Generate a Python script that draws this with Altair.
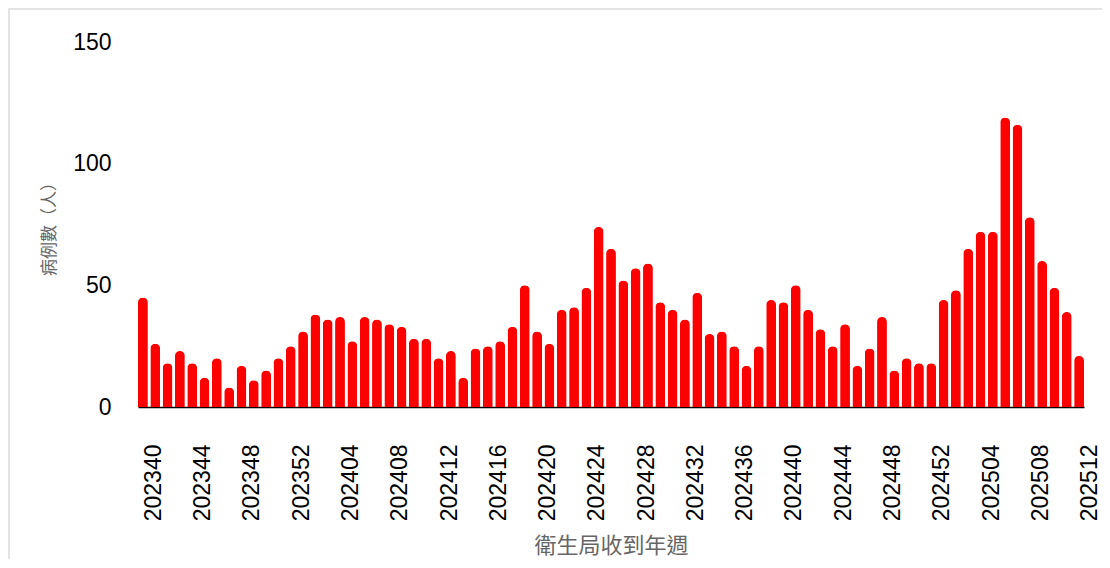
import altair as alt
import pandas as pd

weeks = ([f"2023{w:02d}" for w in range(40, 53)]
         + [f"2024{w:02d}" for w in range(1, 53)]
         + [f"2025{w:02d}" for w in range(1, 13)])

cases = [45, 26, 18, 23, 18, 12, 20, 8, 17, 11, 15, 20, 25,
         31, 38, 36, 37, 27, 37, 36, 34, 33, 28, 28, 20, 23, 12, 24, 25, 27, 33,
         50, 31, 26, 40, 41, 49, 74, 65, 52, 57, 59, 43, 40, 36, 47, 30, 31, 25,
         17, 25, 44, 43, 50, 40, 32, 25, 34, 17, 24, 37, 15, 20, 18, 18,
         44, 48, 65, 72, 72, 119, 116, 78, 60, 49, 39, 21]

tick_weeks = weeks[::4]

df = pd.DataFrame({"week": weeks, "cases": cases})

bars = alt.Chart(df).mark_bar(
    color="#ff0000", cornerRadiusTopLeft=5, cornerRadiusTopRight=5
).encode(
    x=alt.X("week:N", sort=None,
            scale=alt.Scale(paddingInner=0.2, paddingOuter=0),
            axis=alt.Axis(title="衛生局收到年週", values=tick_weeks,
                          labelAngle=-90, labelAlign="right", labelBaseline="top",
                          labelPadding=37, ticks=False, domainColor="#000000",
                          domainWidth=1.5, labelFontSize=23, labelColor="#000000",
                          labelFont="Liberation Sans", titleFont="Noto Sans CJK TC",
                          titleFontSize=22, titleFontWeight="normal",
                          titleColor="#666666", titlePadding=15, grid=False)),
    y=alt.Y("cases:Q",
            scale=alt.Scale(domain=[0, 150]),
            axis=alt.Axis(title="病例數（人）", values=[0, 50, 100, 150],
                          grid=False, ticks=False, domain=False, labelPadding=27,
                          labelFontSize=23, labelColor="#000000",
                          labelFont="Liberation Sans", titleFont="Noto Sans CJK TC",
                          titleFontSize=17, titleFontWeight="normal",
                          titleColor="#666666", titlePadding=14)),
)

frame_df = pd.DataFrame({"f": [0]})
frame = alt.Chart(frame_df).mark_rect(
    fill="transparent", stroke="#e4e4e4", strokeWidth=2
).encode(
    x=alt.value(-129), x2=alt.value(1000),
    y=alt.value(-33), y2=alt.value(560),
)

chart = alt.layer(frame, bars).properties(
    width=946, height=365,
    autosize=alt.AutoSizeParams(type="none"),
    padding={"left": 130, "top": 34, "right": 18, "bottom": 152},
).configure(
    background="white",
    view=alt.ViewConfig(strokeWidth=0, stroke="transparent"),
)

chart.save("out.html", embed_options={"renderer": "svg", "actions": False})
